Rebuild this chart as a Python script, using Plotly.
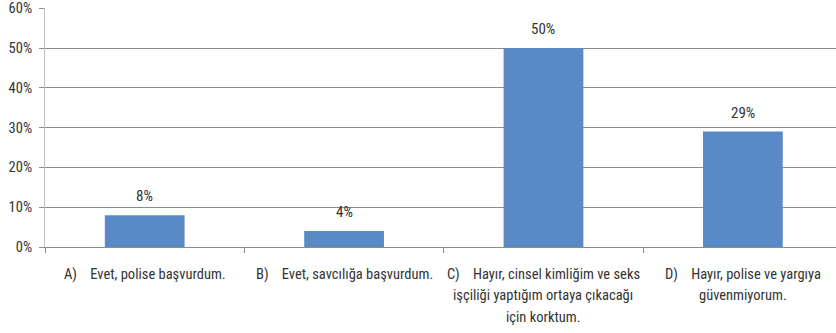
import plotly.graph_objects as go

# Survey responses: did you report to police / prosecutor?
categories = ["A", "B", "C", "D"]
category_lines = [
    ["A)\u00a0\u00a0\u00a0\u00a0Evet, polise başvurdum."],
    ["B)\u00a0\u00a0\u00a0\u00a0Evet, savcılığa başvurdum."],
    ["C)\u00a0\u00a0\u00a0\u00a0Hayır, cinsel kimliğim ve seks",
     "işçiliği yaptığım ortaya çıkacağı",
     "için korktum."],
    ["D)\u00a0\u00a0\u00a0\u00a0Hayır, polise ve yargıya",
     "güvenmiyorum."],
]
shares = [0.08, 0.04, 0.50, 0.29]
y_ticks = [0, 0.1, 0.2, 0.3, 0.4, 0.5, 0.6]

FONT = "Liberation Sans Narrow, Roboto Condensed, Roboto, sans-serif"
TEXT_COLOR = "#333333"
GRID = "#8c8c8c"
LINE_GAP = 21.5

fig = go.Figure()
fig.add_trace(go.Bar(
    x=categories,
    y=shares,
    marker=dict(color="#5A8AC6", line=dict(width=0)),
    hoverinfo="skip",
))

# value labels above each bar
for cat, val in zip(categories, shares):
    fig.add_annotation(
        x=cat, y=val, text=f"{val:.0%}",
        showarrow=False, yanchor="bottom", yshift=8,
        font=dict(family=FONT, size=15, color=TEXT_COLOR),
    )

# category labels, one annotation per line for wider line spacing
for cat, lines in zip(categories, category_lines):
    for i, line in enumerate(lines):
        fig.add_annotation(
            x=cat, y=0, yref="y", text=line,
            showarrow=False, yanchor="middle", xanchor="center",
            yshift=-27 - i * LINE_GAP,
            font=dict(family=FONT, size=14.5, color=TEXT_COLOR),
        )

fig.update_layout(
    width=836, height=333,
    margin=dict(l=45, r=0, t=8, b=86),
    paper_bgcolor="white", plot_bgcolor="white",
    bargap=0.6,
    showlegend=False,
    font=dict(family=FONT, size=14, color=TEXT_COLOR),
)
fig.update_xaxes(
    type="category",
    range=[-0.5, 3.467],
    tickson="boundaries",
    ticks="outside", ticklen=5, tickcolor=GRID,
    showticklabels=False,
    showgrid=False,
    showline=True, linecolor=GRID, linewidth=1,
)
fig.update_yaxes(
    range=[0, 0.6005],
    tickvals=y_ticks,
    tickformat=".0%",
    ticks="outside", ticklen=5, tickcolor=GRID,
    showgrid=True, gridcolor=GRID, gridwidth=1,
    showline=True, linecolor="#c0c0c0", linewidth=1,
    zeroline=False,
    tickfont=dict(family=FONT, size=14.5, color=TEXT_COLOR),
    ticklabelstandoff=4,
)

fig.write_html("out.html")
